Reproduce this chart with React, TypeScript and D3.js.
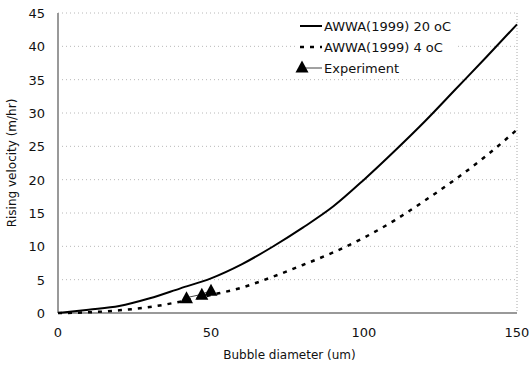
import * as d3 from 'd3'

// bubble diameter (um) where the model curves are sampled
const diameters = [0, 10, 20, 30, 40, 50, 60, 70, 80, 90, 100, 110, 120, 130, 140, 150]
// AWWA(1999) 20 oC rising velocity (m/hr)
const awwa20 = [0, 0.5, 1.05, 2.2, 3.7, 5.2, 7.3, 9.9, 12.8, 16, 20, 24.3, 28.8, 33.6, 38.4, 43.3]
// AWWA(1999) 4 oC rising velocity (m/hr)
const awwa4 = [0, 0.1, 0.4, 0.9, 1.7, 2.7, 3.8, 5.4, 7.2, 9.1, 11.3, 13.9, 16.9, 20.1, 23.6, 27.5]
// experimental points
const expDiam = [42, 47, 50]
const expVel = [2.3, 2.8, 3.4]

const xTicks = [0, 50, 100, 150]
const yTicks = [0, 5, 10, 15, 20, 25, 30, 35, 40, 45]

const width = 531
const height = 366
const margin = { top: 13, right: 14, bottom: 53, left: 58 }
const font = 'DejaVu Sans, Arial, sans-serif'

export default function App() {
  const x = d3.scaleLinear()
    .domain([0, 150])
    .range([margin.left, width - margin.right])
  const y = d3.scaleLinear()
    .domain([0, 45])
    .range([height - margin.bottom, margin.top])

  const line = d3.line<[number, number]>()
    .x(d => x(d[0]))
    .y(d => y(d[1]))
    .curve(d3.curveMonotoneX)
  const straight = d3.line<[number, number]>()
    .x(d => x(d[0]))
    .y(d => y(d[1]))

  const solid = line(diameters.map((d, i) => [d, awwa20[i]]))
  const dashed = line(diameters.map((d, i) => [d, awwa4[i]]))
  const expPts: [number, number][] = expDiam.map((d, i) => [d, expVel[i]])

  const tri = (cx: number, cy: number) =>
    `M${cx},${cy - 6.5}L${cx + 6.5},${cy + 5.5}L${cx - 6.5},${cy + 5.5}Z`

  const x0 = x(0), x1 = x(150), y0 = y(0), y1 = y(45)
  const legX = 300

  return (
    <svg width={width} height={height} style={{ position: 'absolute', left: 0, top: 0, background: '#fff' }}>
      {/* gridlines */}
      {yTicks.filter(t => t > 0).map(t => (
        <line key={t} x1={x0} x2={x1} y1={y(t)} y2={y(t)}
          stroke="#b8b8b8" strokeWidth={1} strokeDasharray="1 3" />
      ))}
      <line x1={x1} x2={x1} y1={y1} y2={y0} stroke="#aaa" strokeWidth={1} strokeDasharray="1 2" />

      {/* legend background */}
      <rect x={legX - 4} y={16} width={162} height={62} fill="#fff" />

      {/* axes */}
      <line x1={x0} x2={x0} y1={y1} y2={y0} stroke="#999" strokeWidth={2} />
      <line x1={x0} x2={x1} y1={y0} y2={y0} stroke="#999" strokeWidth={2} />

      {/* tick labels */}
      {yTicks.map(t => (
        <text key={t} x={x0 - 13} y={y(t) + 5} textAnchor="end" fontSize={13} fontFamily={font} fill="#111">{t}</text>
      ))}
      {xTicks.map(t => (
        <text key={t} x={x(t)} y={y0 + 24} textAnchor="middle" fontSize={13} fontFamily={font} fill="#111">{t}</text>
      ))}

      {/* axis titles */}
      <text x={(x0 + x1) / 2 + 2} y={359} textAnchor="middle" fontSize={12} fontFamily={font} fill="#111">Bubble diameter (um)</text>
      <text transform={`translate(16,${(y0 + y1) / 2}) rotate(-90)`} textAnchor="middle" fontSize={12} fontFamily={font} fill="#111">Rising velocity (m/hr)</text>

      {/* curves */}
      <path d={solid ?? ''} fill="none" stroke="#000" strokeWidth={2} />
      <path d={dashed ?? ''} fill="none" stroke="#000" strokeWidth={2.5} strokeDasharray="4 6" />

      {/* experiment */}
      <path d={straight(expPts) ?? ''} fill="none" stroke="#444" strokeWidth={1} />
      {expPts.map((p, i) => (
        <path key={i} d={tri(x(p[0]), y(p[1]))} fill="#000" />
      ))}

      {/* legend */}
      <line x1={legX} x2={legX + 22} y1={26} y2={26} stroke="#000" strokeWidth={2} />
      <text x={legX + 24} y={31} fontSize={13} fontFamily={font} fill="#111">AWWA(1999) 20 oC</text>
      <line x1={legX} x2={legX + 22} y1={47} y2={47} stroke="#000" strokeWidth={2.5} strokeDasharray="4 6" />
      <text x={legX + 24} y={52} fontSize={13} fontFamily={font} fill="#111">AWWA(1999) 4 oC</text>
      <line x1={legX} x2={legX + 22} y1={68} y2={68} stroke="#444" strokeWidth={1} />
      <path d={tri(legX + 2, 67)} fill="#000" />
      <text x={legX + 24} y={73} fontSize={13} fontFamily={font} fill="#111">Experiment</text>
    </svg>
  )
}
